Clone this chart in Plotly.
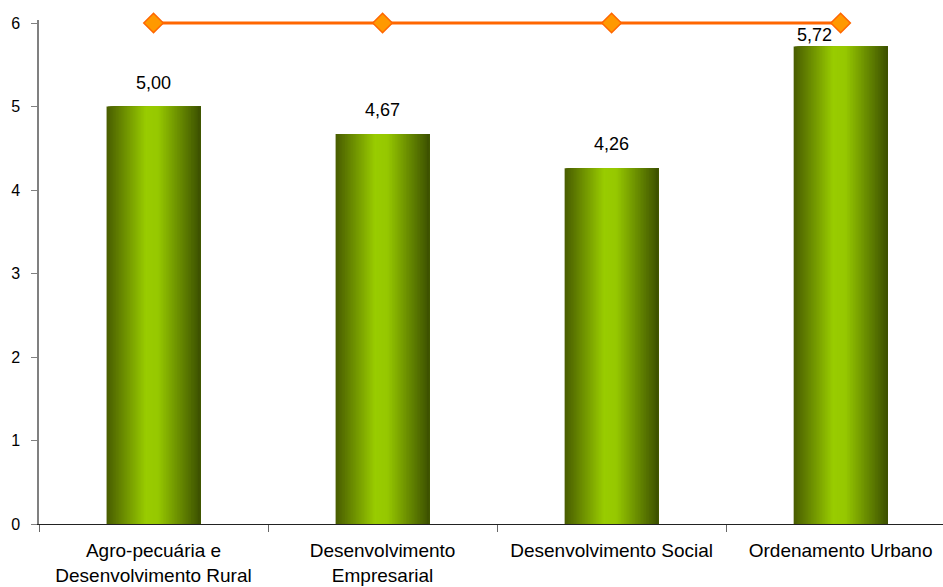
import plotly.graph_objects as go

categories = ["Agro-pecuária e<br>Desenvolvimento Rural", "Desenvolvimento<br>Empresarial",
              "Desenvolvimento Social", "Ordenamento Urbano"]
scores = [5.00, 4.67, 4.26, 5.72]
target = [6, 6, 6, 6]
y_ticks = [0, 1, 2, 3, 4, 5, 6]

# horizontal shading across each bar: dark olive edges, bright green centre
stops = [(0.0, (72, 92, 0)), (0.42, (153, 204, 0)), (0.55, (150, 200, 0)), (1.0, (60, 80, 0))]


def shade(t):
    for (t0, c0), (t1, c1) in zip(stops[:-1], stops[1:]):
        if t0 <= t <= t1:
            f = (t - t0) / (t1 - t0) if t1 > t0 else 0
            return "rgb(%d,%d,%d)" % tuple(round(a + (b - a) * f) for a, b in zip(c0, c1))
    return "rgb(%d,%d,%d)" % stops[-1][1]


bar_w = 0.41
n_strips = 60
step = bar_w / n_strips

fig = go.Figure()
# each strip runs from its start to the bar's right edge; later strips cover earlier ones,
# so the visible bands join without seams
for i in range(n_strips):
    fig.add_trace(go.Bar(
        x=categories, y=scores,
        width=bar_w - i * step, offset=-bar_w / 2 + i * step,
        marker=dict(color=shade((i + 0.5) / n_strips), line=dict(width=0)),
        hoverinfo="skip", showlegend=False,
    ))

fig.add_trace(go.Scatter(
    x=categories, y=target, mode="lines+markers",
    line=dict(color="#ff6600", width=3),
    marker=dict(symbol="diamond", size=15, color="#ff9900", line=dict(color="#ff6600", width=1.5)),
    cliponaxis=False, showlegend=False,
))

top_m, bot_m = 20, 63
px_per_unit = (587 - 23 - bot_m) / 6
y_top = (587 - top_m - bot_m) / px_per_unit   # a little headroom so the line at 6 is not clipped

for c, v in zip(categories, scores):
    room = (max(target) - v) * px_per_unit
    crowded = room < 37
    fig.add_annotation(x=c, y=v, text=f"{v:.2f}".replace(".", ","), showarrow=False,
                       yshift=min(24, room - 12), xshift=-26 if crowded else 0,
                       font=dict(size=18, color="black"))

fig.update_layout(
    width=943, height=587, barmode="overlay",
    margin=dict(l=39, r=0, t=top_m, b=bot_m),
    plot_bgcolor="white", paper_bgcolor="white",
    font=dict(family="Liberation Sans, Arial, sans-serif", color="black"),
    xaxis=dict(type="category", range=[-0.5, 3.447], showline=True, linecolor="#222222", linewidth=1,
               ticks="outside", ticklen=7, tickcolor="#666666", tickson="boundaries",
               tickfont=dict(size=19), showgrid=False, zeroline=False, ticklabelstandoff=9),
    yaxis=dict(range=[0, y_top], tickvals=y_ticks, showline=True, linecolor="#808080", linewidth=1.5,
               ticks="outside", ticklen=6, tickcolor="#808080", tickfont=dict(size=16),
               showgrid=False, zeroline=False, ticklabelstandoff=8),
)

fig.write_html("out.html")
